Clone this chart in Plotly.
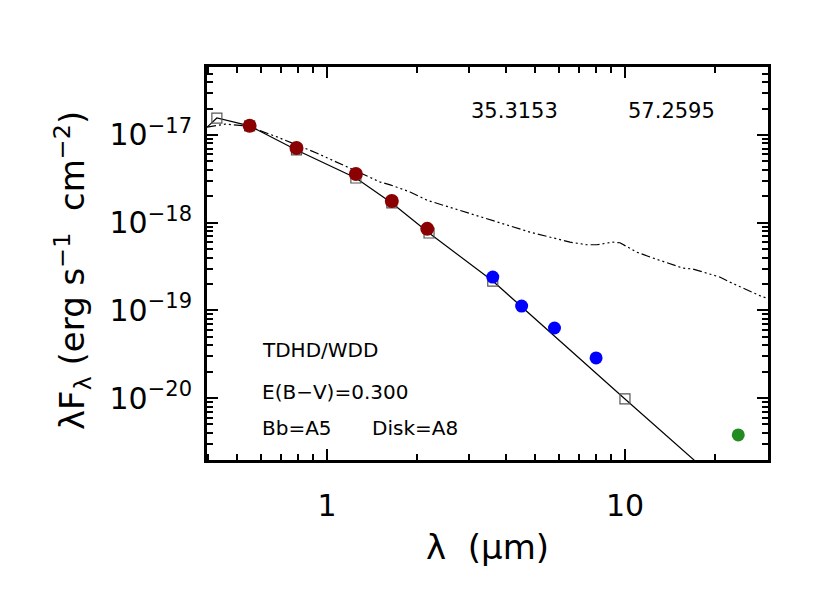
import plotly.graph_objects as go

# ---- data ----
obs_opt_wl = [0.55, 0.79, 1.25, 1.65, 2.17]
obs_opt_flux = [1.27e-17, 7.1e-18, 3.59e-18, 1.77e-18, 8.5e-19]

obs_irac_wl = [3.6, 4.5, 5.8, 8.0]
obs_irac_flux = [2.4e-19, 1.12e-19, 6.3e-20, 2.87e-20]

obs_mips_wl = [24.0]
obs_mips_flux = [3.8e-21]

model_sq_wl = [0.427, 0.55, 0.79, 1.25, 1.65, 2.2, 3.6, 10.0]
model_sq_flux = [1.56e-17, 1.27e-17, 6.75e-18, 3.23e-18, 1.68e-18, 7.63e-19, 2.16e-19, 9.77e-21]

model_line_wl = [0.396, 0.427, 0.55, 0.79, 1.25, 1.65, 2.2, 3.6, 10.0, 30.0]
model_line_flux = [1.23e-17, 1.56e-17, 1.27e-17, 6.75e-18, 3.23e-18, 1.68e-18, 7.63e-19, 2.16e-19, 9.77e-21, 3.6e-22]

disk_wl = [0.396, 0.455, 0.539, 0.680, 0.926, 1.26, 1.51, 1.63, 1.90, 2.17, 3.26, 3.81,
           4.80, 6.54, 7.46, 8.05, 9.11, 9.62, 10.97, 12.4, 15.6, 16.9, 20.8, 22.5, 29.0, 30.2]
disk_flux = [1.23e-17, 1.33e-17, 1.27e-17, 9.5e-18, 6.2e-18, 3.8e-18, 2.9e-18, 2.7e-18, 2.24e-18,
             1.8e-18, 1.16e-18, 9.9e-19, 7.8e-19, 6.0e-19, 5.6e-19, 5.6e-19, 6.0e-19, 5.9e-19,
             4.6e-19, 3.96e-19, 3.04e-19, 2.96e-19, 2.4e-19, 2.1e-19, 1.42e-19, 1.38e-19]

x_tick_vals = [1, 10]
x_tick_text = ["1", "10"]
x_minor_vals = [0.4, 0.5, 0.6, 0.7, 0.8, 0.9, 2, 3, 4, 5, 6, 7, 8, 9, 20, 30]
y_tick_vals = [1e-17, 1e-18, 1e-19, 1e-20]
y_tick_text = ["10<sup>\u221217</sup>", "10<sup>\u221218</sup>", "10<sup>\u221219</sup>", "10<sup>\u221220</sup>"]
y_minor_vals = [m * 10.0 ** e for e in range(-21, -16) for m in range(2, 10)]

FONT = "DejaVu Sans"

fig = go.Figure()

fig.add_trace(go.Scatter(x=disk_wl, y=disk_flux, mode="lines",
                         line=dict(color="black", width=1.2, dash="9px,3px,2px,3px,2px,3px,2px,3px")))
fig.add_trace(go.Scatter(x=model_line_wl, y=model_line_flux, mode="lines",
                         line=dict(color="black", width=1.2)))
fig.add_trace(go.Scatter(x=model_sq_wl, y=model_sq_flux, mode="markers",
                         marker=dict(symbol="square-open", size=10, color="#555555", line=dict(width=1.2))))
fig.add_trace(go.Scatter(x=obs_opt_wl, y=obs_opt_flux, mode="markers",
                         marker=dict(symbol="circle", size=14, color="#8B0000")))
fig.add_trace(go.Scatter(x=obs_irac_wl, y=obs_irac_flux, mode="markers",
                         marker=dict(symbol="circle", size=13, color="#0000FF")))
fig.add_trace(go.Scatter(x=obs_mips_wl, y=obs_mips_flux, mode="markers",
                         marker=dict(symbol="circle", size=13, color="#228B22")))

axis_common = dict(
    type="log", showline=True, linecolor="black", linewidth=3, mirror="allticks",
    ticks="inside", ticklen=11, tickwidth=2, tickcolor="black",
    showgrid=False, zeroline=False,
    tickfont=dict(family=FONT, size=30, color="black"),
)

fig.update_xaxes(**axis_common, range=[-0.4027, 1.480], tickmode="array",
                 tickvals=x_tick_vals, ticktext=x_tick_text, ticklabelstandoff=17,
                 minor=dict(tickmode="array", tickvals=x_minor_vals, ticks="inside",
                            ticklen=6, tickwidth=2, tickcolor="black", showgrid=False))
fig.update_yaxes(**axis_common, range=[-20.706, -16.225], tickmode="array",
                 tickvals=y_tick_vals, ticktext=y_tick_text, ticklabelstandoff=6,
                 minor=dict(tickmode="array", tickvals=y_minor_vals, ticks="inside",
                            ticklen=6, tickwidth=2, tickcolor="black", showgrid=False))

# reference-frame geometry of the plot area (used for placing labels)
L, R, T, B = 207, 768, 67, 460


def px(xp):
    return (xp - L) / (R - L)


def py(yp):
    return (B - yp) / (B - T)


# axis titles
fig.add_annotation(text="\u03bbF<sub>\u03bb</sub>\u00a0(erg s<sup>\u22121</sup>\u00a0 cm<sup>\u22122</sup>)",
                   xref="paper", yref="paper", x=px(72), y=py(271), textangle=-90,
                   showarrow=False, xanchor="center", yanchor="middle",
                   font=dict(family=FONT, size=34, color="black"))
fig.add_annotation(text="\u03bb\u00a0 (\u03bcm)", xref="paper", yref="paper", x=px(487), y=py(547),
                   showarrow=False, xanchor="center", yanchor="middle",
                   font=dict(family=FONT, size=34, color="black"))

for txt, xp, yp in [("35.3153", 514, 111), ("57.2595", 671, 111)]:
    fig.add_annotation(text=txt, xref="paper", yref="paper", x=px(xp), y=py(yp),
                       showarrow=False, xanchor="center", yanchor="middle",
                       font=dict(family=FONT, size=21, color="black"))

for txt, xp, yp in [("TDHD/WDD", 260, 350), ("E(B\u2212V)=0.300", 260, 392),
                    ("Bb=A5", 260, 428), ("Disk=A8", 370, 428)]:
    fig.add_annotation(text=txt, xref="paper", yref="paper", x=px(xp), y=py(yp),
                       showarrow=False, xanchor="left", yanchor="middle",
                       font=dict(family=FONT, size=20, color="black"))

W, H = 830, 593
# page body has an 8px margin; compensate so the plot area lands at L..R, T..B
OFF = 8
fig.update_layout(
    width=W, height=H,
    margin=dict(l=L - OFF, r=W - (R - OFF), t=T - OFF, b=H - (B - OFF)),
    paper_bgcolor="white", plot_bgcolor="white",
    showlegend=False,
    font=dict(family=FONT, color="black"),
)

fig.write_html("out.html")
